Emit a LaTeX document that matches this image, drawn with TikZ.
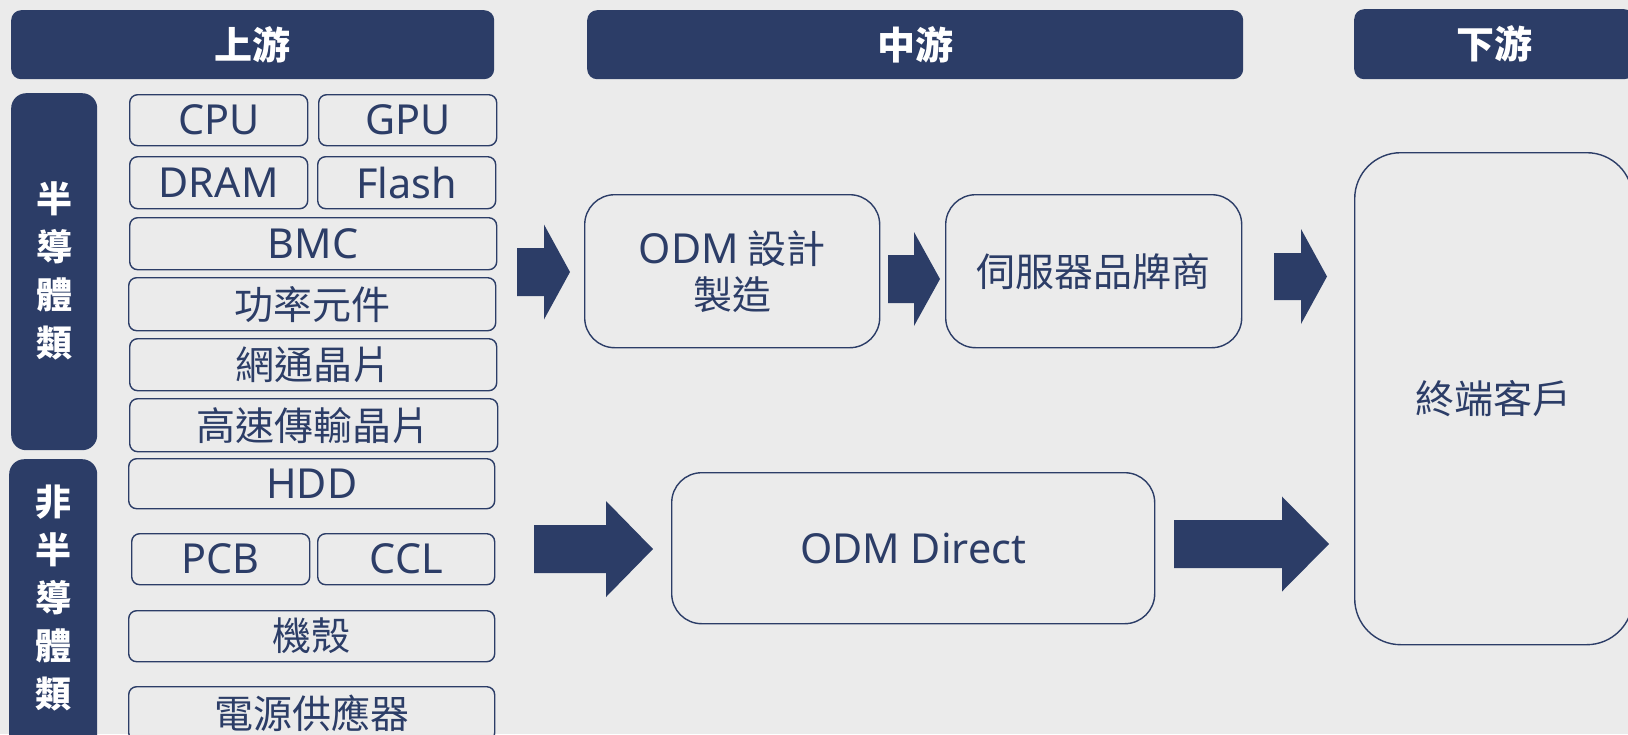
\documentclass[tikz,border=0pt]{standalone}
\usepackage{fontspec}
\setmainfont{Noto Sans CJK TC}
\newfontfamily\lat{Noto Sans}[Scale=1.06]
\definecolor{navy}{HTML}{2C3D67}
\definecolor{bg}{HTML}{EBEBEB}
\tikzset{
  box/.style={draw=navy, line width=1.4pt, fill=bg, rounded corners=8pt, text=navy,
    font=\fontsize{39}{46}\selectfont, anchor=north west, inner sep=0pt, align=center},
  bigbox/.style={box, rounded corners=30pt},
  endbox/.style={box, rounded corners=46pt},
  hdr/.style={fill=navy, rounded corners=10pt, text=white,
    font=\bfseries\fontsize{38}{40}\selectfont, anchor=north west, inner sep=0pt},
  sidebar/.style={fill=navy, rounded corners=15pt, anchor=north west, inner sep=0pt},
  sidetext/.style={text=white, font=\bfseries\fontsize{36}{48}\selectfont, align=center, inner sep=0pt},
  blk/.style={fill=navy}
}
\newcommand\place[7]{\node[#1, minimum width={(#5)-(#3)}, minimum height={(#6)-(#4)}] (#2) at (#3,#4) {#7};}
\newcommand\blkarrow[6]{%
  \fill[blk] ({#1},{#4-#5}) -- ({#2},{#4-#5}) -- ({#2},{#4-#6}) -- ({#3},{#4})
    -- ({#2},{#4+#6}) -- ({#2},{#4+#5}) -- ({#1},{#4+#5}) -- cycle;}
\begin{document}
\begin{tikzpicture}[x=1pt,y=-1pt]
\useasboundingbox (0,0) rectangle (1628,734);
\clip (0,0) rectangle (1628,734);
\fill[bg] (0,0) rectangle (1628,734);

% headers
\place{hdr}{hUp}{11}{10}{494}{79}{上游}
\place{hdr}{hMid}{587}{10}{1243}{79}{中游}
\place{hdr}{hDown}{1354}{9}{1634}{79}{下游}

% side bars
\place{sidebar}{semi}{11}{93}{97}{450}{}
\place{sidebar}{nonsemi}{9}{459}{97}{760}{}
\node[sidetext] (semiT) at (54,271) {半\\導\\體\\類};
\node[sidetext] (nonsemiT) at (53,598) {非\\半\\導\\體\\類};

% upstream boxes
\place{box}{cpu}{129}{94}{307}{145}{\lat CPU}
\place{box}{gpu}{318}{94}{496}{145}{\lat GPU}
\place{box}{dram}{129}{156}{307}{208}{\lat DRAM}
\place{box}{flash}{317}{156}{495}{208}{\lat Flash}
\place{box}{bmc}{129}{217}{496}{269}{\lat BMC}
\place{box}{power}{128}{277}{495}{330}{功率元件}
\place{box}{net}{129}{338}{496}{390}{網通晶片}
\place{box}{hs}{129}{398}{497}{451}{高速傳輸晶片}
\place{box}{hdd}{128}{458}{494}{508}{\lat HDD}
\place{box}{pcb}{131}{533}{309}{584}{\lat PCB}
\place{box}{ccl}{317}{533}{494}{584}{\lat CCL}
\place{box}{chassis}{128}{610}{494}{661}{機殼}
\place{box}{psu}{128}{686}{494}{740}{電源供應器}

% midstream
\place{bigbox}{odm}{584}{194}{879}{347}{{\lat ODM} 設計\\製造}
\place{bigbox}{brand}{945}{194}{1241}{347}{伺服器品牌商}
\place{bigbox}{direct}{671}{472}{1154}{623}{\lat ODM Direct}

% downstream
\place{endbox}{endc}{1354}{152}{1632}{644}{終端客戶}

% block arrows
\blkarrow{517}{544}{570}{272}{24}{47.5}
\blkarrow{888}{914}{940}{279}{24}{47}
\blkarrow{1274}{1301}{1327}{276.5}{23.5}{47.5}
\blkarrow{534}{606}{653}{549}{24}{48}
\blkarrow{1174}{1282}{1329}{544}{24}{47.5}
\end{tikzpicture}
\end{document}
